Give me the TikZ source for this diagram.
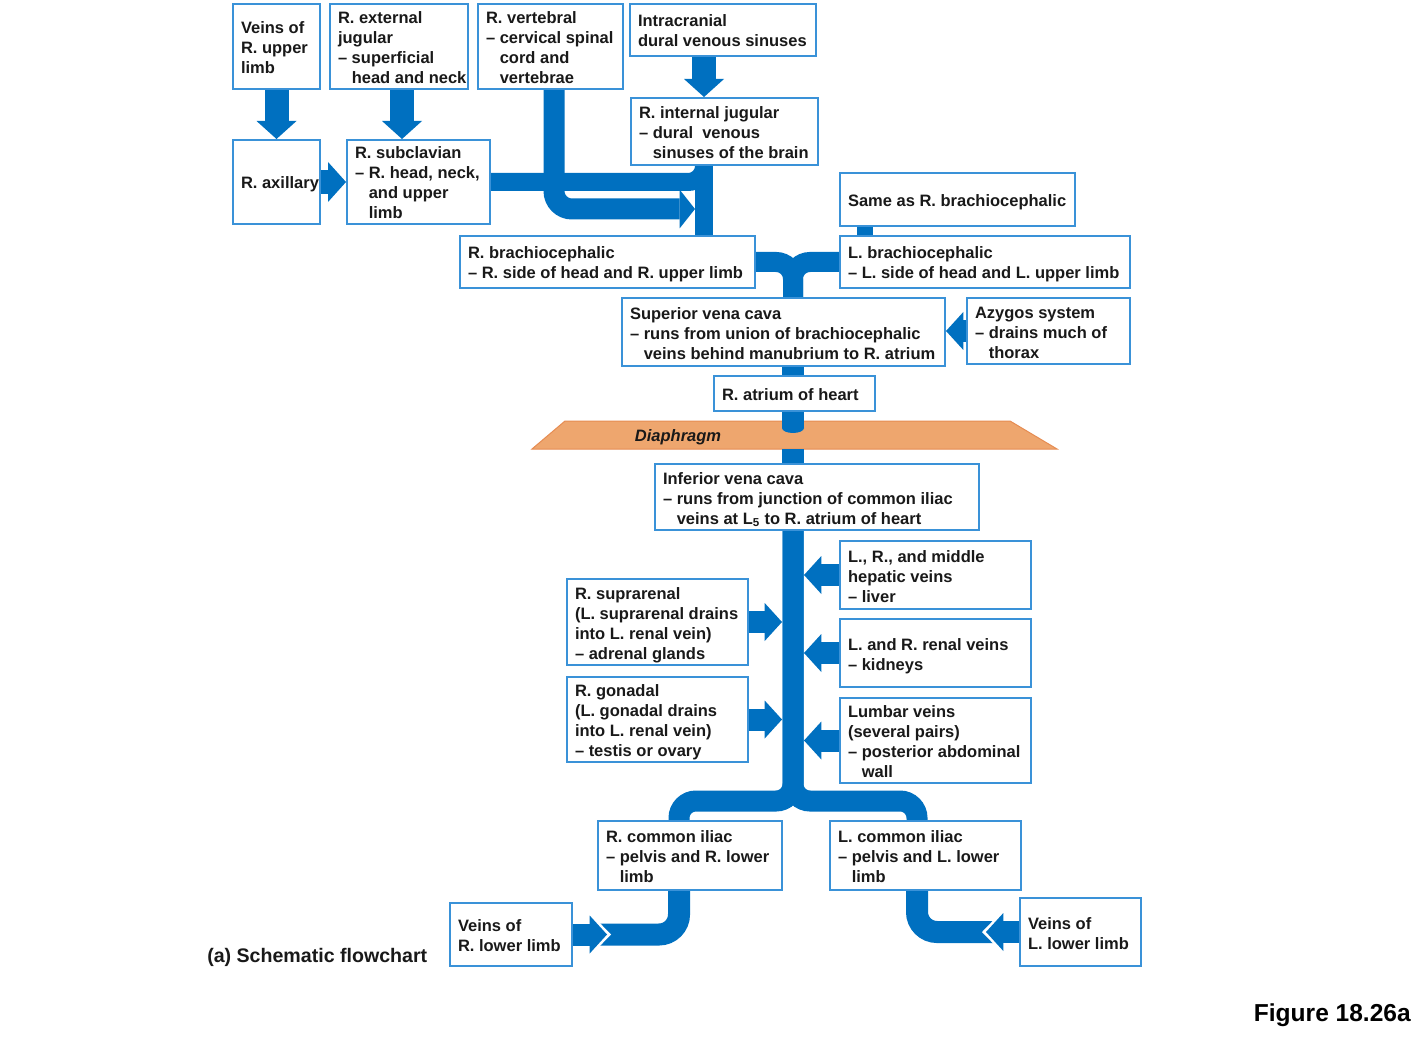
\documentclass[tikz,border=0pt]{standalone}
\usepackage{fontspec}
\setmainfont{Liberation Sans}
\usetikzlibrary{arrows.meta,calc}
\definecolor{vein}{RGB}{0,112,192}
\definecolor{boxline}{RGB}{58,146,216}
\definecolor{diafill}{RGB}{238,166,110}
\definecolor{diadraw}{RGB}{230,140,82}
\definecolor{txt}{RGB}{25,25,25}
\pgfdeclarelayer{background}
\pgfsetlayers{background,main}
\newcommand\ind{\hphantom{–\ }}
\newcommand\bx[6]{%
 \pgfmathsetmacro\bxw{(#4-#2)*0.75}%
 \pgfmathsetmacro\bxh{(#5-#3)*0.75}%
 \pgfmathsetmacro\bxt{(#4-#2)*0.75-12}%
 \node[vbox,minimum width=\bxw pt,minimum height=\bxh pt] (#1) at ({(#2+#4)/2},{(#3+#5)/2})
  {\raisebox{-2.25pt}[\height][\depth]{\makebox[\bxt pt][l]{\begin{tabular}{@{}l@{}}#6\end{tabular}}}};}
\tikzset{
 vbox/.style={draw=boxline, line width=1.5pt, fill=white, inner xsep=6pt, inner ysep=1pt,
   font=\fontsize{12.375}{15}\selectfont\bfseries, text=txt},
 pipe/.style={draw=vein, line cap=butt},
 arr/.style={draw=vein, line width=16.5pt, -{Triangle[width=28.5pt,length=13pt,line width=0pt]}},
 darr/.style={draw=vein, line width=18pt, -{Triangle[width=30pt,length=13.5pt,line width=0pt]}},
 halo/.style={draw=white, line width=22.5pt, -{Triangle[width=35pt,length=17pt,line width=0pt]}},
}
\begin{document}
\begin{tikzpicture}[x=0.75pt,y=-0.75pt]
\useasboundingbox (0,0) rectangle (1427,1037);
% boxes
\bx{ua}{233}{4}{320}{89}{Veins of\\R. upper\\limb}
\bx{ej}{330}{4}{468}{89}{R. external\\jugular\\– superficial\\\ind head and neck}
\bx{vt}{478}{4}{623}{89}{R. vertebral\\– cervical spinal\\\ind cord and\\\ind vertebrae}
\bx{ic}{630}{4}{816}{56}{Intracranial\\dural venous sinuses}
\bx{ij}{631}{98}{818}{165}{R. internal jugular\\– dural\ \ venous\\\ind sinuses of the brain}
\bx{ax}{233}{140}{320}{224}{R. axillary}
\bx{sc}{347}{140}{490}{224}{R. subclavian\\– R. head, neck,\\\ind and upper\\\ind limb}
\bx{sa}{840}{173}{1075}{226}{Same as R. brachiocephalic}
\bx{rb}{460}{236}{755}{288}{R. brachiocephalic\\– R. side of head and R. upper limb}
\bx{lb}{840}{236}{1130}{288}{L. brachiocephalic\\– L. side of head and L. upper limb}
\bx{svc}{622}{298}{945}{366}{Superior vena cava\\– runs from union of brachiocephalic\\\ind veins behind manubrium to R. atrium}
\bx{az}{967}{298}{1130}{364}{Azygos system\\– drains much of\\\ind thorax}
\bx{ra}{714}{376}{875}{411}{R. atrium of heart}
\bx{ivc}{655}{464}{979}{530}{Inferior vena cava\\– runs from junction of common iliac\\\ind veins at L\textsubscript{5} to R. atrium of heart}
\bx{hv}{840}{541}{1031}{609}{L., R., and middle\\hepatic veins\\– liver}
\bx{sr}{567}{579}{748}{665}{R. suprarenal\\(L. suprarenal drains\\into L. renal vein)\\– adrenal glands}
\bx{rv}{840}{619}{1031}{687}{L. and R. renal veins\\– kidneys}
\bx{gd}{567}{677}{748}{762}{R. gonadal\\(L. gonadal drains\\into L. renal vein)\\– testis or ovary}
\bx{lv}{840}{698}{1031}{783}{Lumbar veins\\(several pairs)\\– posterior abdominal\\\ind wall}
\bx{rci}{598}{821}{782}{890}{R. common iliac\\– pelvis and R. lower\\\ind limb}
\bx{lci}{830}{821}{1021}{890}{L. common iliac\\– pelvis and L. lower\\\ind limb}
\bx{rl}{450}{903}{572}{966}{Veins of\\R. lower limb}
\bx{ll}{1020}{898}{1141}{966}{Veins of\\L. lower limb}
% labels
\node[font=\fontsize{12.375}{15}\selectfont\bfseries\itshape, text=txt, inner sep=0pt] (dia) at (678,437) {Diaphragm};
\node[anchor=west, font=\fontsize{14.7}{17}\selectfont\bfseries, text=txt, inner sep=0pt] (cap) at (207,957) {(a) Schematic flowchart};
\node[anchor=east, font=\fontsize{18.4}{22}\selectfont\bfseries, text=black, inner sep=0pt] (fig) at (1411,1015) {Figure 18.26a};
% helper coordinates
\coordinate (ut) at (704,0);
\coordinate (tx) at (793,0);
\coordinate (tl) at (782,0);
\coordinate (tr) at (804,0);
\coordinate (vtx) at (554,0);
\coordinate (vtend) at (695,209);
\coordinate (ejx) at (402,0);
\coordinate (sx) at (865,0);
\coordinate (dtop) at (793,428);
\coordinate (dbot) at (793,449);
\coordinate (split) at (793,801);
\coordinate (rcx) at (679,0);
\coordinate (lcx) at (917,0);
\coordinate (rlend) at (596,934.5);
\coordinate (rltip) at (607,0);
\coordinate (rlhalo) at (611,934.5);
\coordinate (llend) at (997,932);
\coordinate (lltip) at (986,0);
\coordinate (llhalo) at (982,932);
\begin{pgfonlayer}{background}
\fill[white] (0,0) rectangle (1427,1037);
\filldraw[fill=diafill, draw=diadraw, line width=0.75pt] (565,421) -- (1010,421) -- (1057,449) -- (532,449) -- cycle;
% upper arrows
\draw[darr] (ua.south) -- (ax.north);
\draw[darr] (ej.south -| ejx) -- (sc.north -| ejx);
\draw[darr] (ic.south -| ut) -- (ij.north -| ut);
\draw[darr] (ax.east) -- (sc.west);
% subclavian band and upper trunk
\draw[pipe, line width=13.5pt, rounded corners=12pt] (sc.east) -- (sc.east -| ut) -- (ij.south -| ut);
\draw[pipe, line width=13.5pt] (ij.south -| ut) -- (rb.north -| ut);
% vertebral
\draw[pipe, line width=15.75pt, rounded corners=13.5pt, -{Triangle[width=29pt,length=11.5pt,line width=0pt]}] (vt.south -| vtx) -- (vtx |- vtend) -- (vtend);
% brachiocephalic union
\draw[pipe, line width=15pt, rounded corners=12.75pt] (rb.east) -- (rb.east -| tx) -- (svc.north -| tx);
\draw[pipe, line width=15pt, rounded corners=12.75pt] (lb.west) -- (lb.west -| tx) -- (svc.north -| tx);
\draw[pipe, line width=12pt] (sa.south -| sx) -- (lb.north -| sx);
\draw[arr] (az.west) -- (az.west -| svc.east);
% heart and diaphragm
\draw[pipe, line width=16.5pt] (svc.south -| tx) -- (ra.north -| tx);
\draw[pipe, line width=16.5pt] (ra.south -| tx) -- (dtop);
\fill[vein] (dtop) ellipse [x radius=8.25pt, y radius=3.75pt];
\draw[pipe, line width=16.5pt] (dbot) -- (ivc.north -| tx);
% inferior vena cava and iliac split
\draw[pipe, line width=15.75pt, rounded corners=12.75pt] (ivc.south -| tx) -- (split) -- (split -| rcx) -- (rci.north -| rcx);
\draw[pipe, line width=15.75pt, rounded corners=12.75pt] (ivc.south -| tx) -- (split) -- (split -| lcx) -- (lci.north -| lcx);
% tributaries
\draw[arr] (hv.west) -- (hv.west -| tr);
\draw[arr] (rv.west) -- (rv.west -| tr);
\draw[arr] (lv.west) -- (lv.west -| tr);
\draw[arr] (sr.east) -- (sr.east -| tl);
\draw[arr] (gd.east) -- (gd.east -| tl);
% lower limbs
\draw[pipe, line width=16.5pt, rounded corners=15pt] (rci.south -| rcx) -- (rcx |- rlend) -- (rlend);
\draw[pipe, line width=16.5pt, rounded corners=15pt] (lci.south -| lcx) -- (lcx |- llend) -- (llend);
\draw[halo] ($(rl.east)+(5,0)$) -- (rlhalo);
\draw[halo] ($(ll.west)+(-5,0)$) -- (llhalo);
\draw[arr] (rl.east) -- (rl.east -| rltip);
\draw[arr] (ll.west) -- (ll.west -| lltip);
\end{pgfonlayer}
\end{tikzpicture}
\end{document}
